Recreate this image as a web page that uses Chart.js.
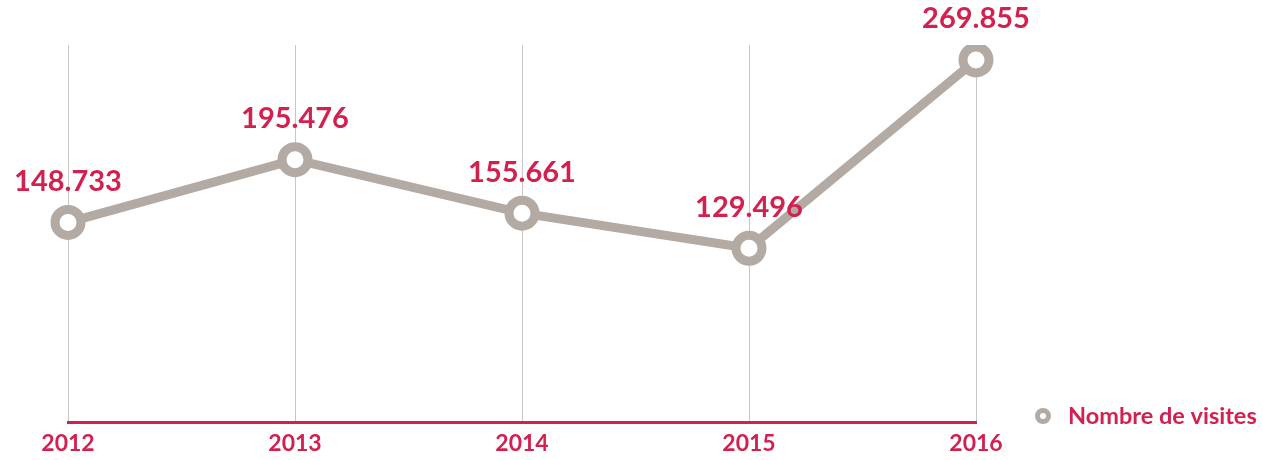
<!DOCTYPE html>
<html>
<head>
<meta charset="utf-8">
<script src="https://cdn.jsdelivr.net/npm/chart.js@4"></script>
<style>
  html, body { margin: 0; padding: 0; background: #fff; }
  #wrap { width: 1263px; height: 460px; }
</style>
</head>
<body>
<div id="wrap"><canvas id="chart"></canvas></div>
<script>
const years = ["2012", "2013", "2014", "2015", "2016"]
const visits = [148733, 195476, 155661, 129496, 269855]
const seriesName = "Nombre de visites"

const crimson = "#d2214f"
const taupe = "#b2aaa3"

function fmt(v) {
  return String(v).replace(/\B(?=(\d{3})+(?!\d))/g, ".")
}

const valueLabels = {
  id: "valueLabels",
  afterDatasetsDraw(chart) {
    const ctx = chart.ctx
    const meta = chart.getDatasetMeta(0)
    ctx.save()
    ctx.fillStyle = crimson
    ctx.font = "bold 29px Lato"
    ctx.textAlign = "center"
    ctx.textBaseline = "middle"
    meta.data.forEach((pt, i) => {
      ctx.fillText(fmt(chart.data.datasets[0].data[i]), pt.x, pt.y - 41)
    })
    ctx.restore()
  }
}

const sideLegend = {
  id: "sideLegend",
  afterDraw(chart) {
    const ctx = chart.ctx
    ctx.save()
    ctx.beginPath()
    ctx.arc(1043, 416, 5.5, 0, Math.PI * 2)
    ctx.fillStyle = "#fff"
    ctx.fill()
    ctx.lineWidth = 5
    ctx.strokeStyle = taupe
    ctx.stroke()
    ctx.fillStyle = crimson
    ctx.font = "bold 23.5px Lato"
    ctx.textAlign = "left"
    ctx.textBaseline = "middle"
    ctx.fillText(seriesName, 1068, 416)
    ctx.restore()
  }
}

new Chart(document.getElementById("chart"), {
  type: "line",
  data: {
    labels: years,
    datasets: [{
      label: seriesName,
      data: visits,
      borderColor: taupe,
      borderWidth: 9,
      pointRadius: 13,
      pointHoverRadius: 13,
      pointBorderWidth: 9,
      pointBackgroundColor: "#fff",
      pointBorderColor: taupe,
      tension: 0,
    }]
  },
  options: {
    responsive: true,
    maintainAspectRatio: false,
    animation: false,
    layout: { padding: { left: 68, right: 287, top: 45, bottom: 0 } },
    scales: {
      x: {
        offset: false,
        grid: { color: "#cbc6c1", lineWidth: 1, drawTicks: false },
        border: { color: crimson, width: 3 },
        ticks: {
          color: crimson,
          font: { family: "Lato", weight: "bold", size: 23 },
          padding: 8,
          maxRotation: 0,
        },
        afterFit(scale) { scale.height = 38 },
      },
      y: { display: false, min: 0, max: 281000 },
    },
    plugins: {
      legend: { display: false },
      tooltip: { enabled: false },
    },
  },
  plugins: [valueLabels, sideLegend],
})
</script>
</body>
</html>
